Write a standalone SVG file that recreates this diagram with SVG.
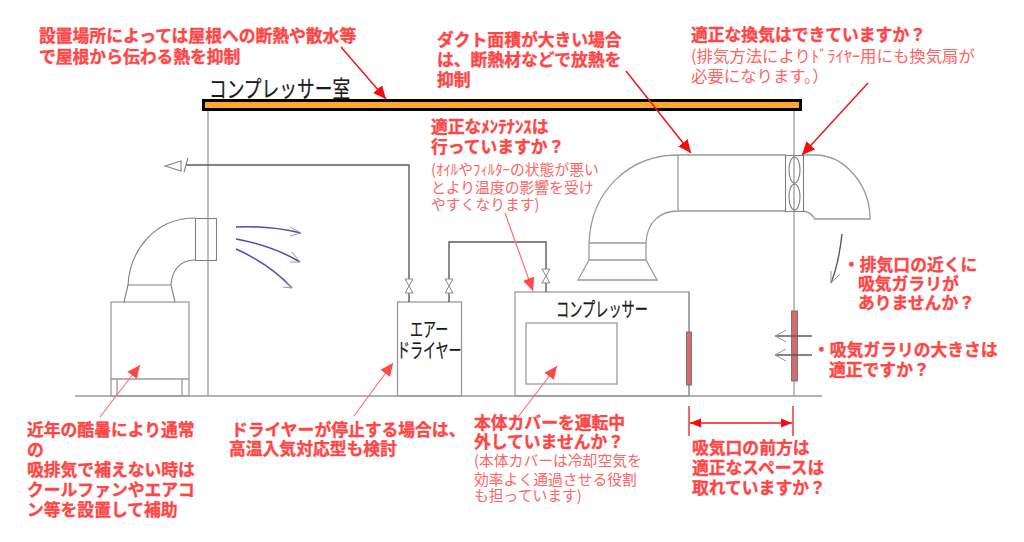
<svg xmlns="http://www.w3.org/2000/svg" width="1024" height="542" viewBox="0 0 1024 542">
<style>
text{font-family:"Noto Sans CJK JP","Noto Sans",sans-serif}
.b{font-size:16.8px;font-weight:700;fill:#ff4646;stroke:#ff4646;stroke-width:.35}
.s{font-size:14.8px;font-weight:400;fill:#ff6464}
.s2{font-size:16.4px;font-weight:400;fill:#ff6464}
.k{fill:#1a1a1a;font-weight:400;stroke:#1a1a1a;stroke-width:.25}
.l{fill:none;stroke:#9a9a9a;stroke-width:1.3}
.d{fill:none;stroke:#808080;stroke-width:1.1}
.p{fill:none;stroke:#5c5c5c;stroke-width:1.4}
.v{fill:#fff;stroke:#8a8a8a;stroke-width:1}
.g{fill:#d9686e;stroke:#777;stroke-width:1}
.r1{fill:none;stroke:#f01818;stroke-width:1.5;marker-end:url(#hr)}
.r2{fill:none;stroke:#ff7070;stroke-width:1.2;marker-end:url(#hl)}
.bl{fill:none;stroke:#4a4ac0;stroke-width:1.5}
.o{fill:none;stroke:#999;stroke-width:1}
</style>
<defs>
<marker id="hr" markerUnits="userSpaceOnUse" markerWidth="14" markerHeight="12" refX="13" refY="6" orient="auto"><path d="M0,0L13,6L0,12Z" fill="#f40d0d"/></marker>
<marker id="hl" markerUnits="userSpaceOnUse" markerWidth="14" markerHeight="12" refX="13" refY="6" orient="auto"><path d="M0,0L13,6L0,12Z" fill="#ff4a4a"/></marker>
<marker id="hd" markerUnits="userSpaceOnUse" markerWidth="12" markerHeight="12" refX="11" refY="6" orient="auto-start-reverse"><path d="M0,1.5L11,6L0,10.5Z" fill="#f40d0d"/></marker>
</defs>
<rect width="1024" height="542" fill="#fff"/>

<g id="building">
<path class="l" d="M75,396H822M208,110V396M794,110V311M794,381V396M689,292V332M689,385V396"/>
<rect x="203.500" y="100.500" width="597" height="9" fill="#ffa733" stroke="#000" stroke-width="3"/>
<text class="k" transform="translate(209,97) scale(.77,1)" font-size="23">コンプレッサー室</text>
</g>

<g id="outdoor-unit">
<rect class="l" x="111" y="302" width="78" height="94"/>
<path class="l" d="M111,379H189M117,379V396M182,379V396"/>
<path class="d" d="M195,218C155,218 130,250 128,285M195,260C180,260 172,270 171,285M128,285H171M128,285L124,302M171,285L175,302"/>
<rect class="d" x="195.500" y="218.500" width="21" height="42"/>
</g>

<g id="air-dryer">
<rect class="l" x="397.500" y="302" width="64" height="94"/>
<text class="k" transform="translate(397,0) scale(.65,1)" font-size="20"><tspan x="20" y="337">エアー</tspan><tspan x="0" y="358">ドライヤー</tspan></text>
</g>

<g id="compressor">
<rect class="l" x="515" y="292" width="174" height="104"/>
<rect class="l" x="526" y="323" width="91" height="61"/>
<text class="k" transform="translate(556,317) scale(.66,1)" font-size="20">コンプレッサー</text>
<rect class="g" x="686.500" y="332" width="5" height="53"/>
</g>

<g id="exhaust-duct">
<path class="l" d="M678,155C630,155 591,190 589,243M678,211C660,211 647,222 646,243M589,243V260M646,243V260M589,243H646M589,260H646M589,260L578,280H657L646,260M678,155V211M678,155H786M678,211H786M803,155H815C845,155 870,185 870,219H815Q811,212 803,211"/>
<rect class="d" x="785.500" y="155.500" width="18" height="56"/>
<ellipse class="d" cx="794.500" cy="170" rx="5.500" ry="13"/>
<ellipse class="d" cx="794.500" cy="197" rx="5.500" ry="13"/>
</g>

<g id="intake-grille">
<rect class="g" x="791.500" y="311" width="6" height="70"/>
</g>

<g id="connectors">
<path class="p" d="M186,165H409V279M409,293V302M449,302V293M449,279V242H546V269M546,283V292"/>
<path class="d" d="M165,166L181,161V171ZM188,158L184,172"/>
<path class="v" d="M405,279H413L405,293H413ZM445,279H453L445,293H453ZM542,269H550L542,283H550Z"/>
<path class="bl" d="M236,227C258,226 280,228 301,233M236,239C258,243 280,250 300,262M236,249C256,258 276,271 292,288"/>
<path class="o" d="M290,227L301,233L290,236M292,252L300,262L290,262M283,278L292,288L283,287"/>
<path class="p" d="M842,234C840,252 837,268 831,283"/>
<path class="o" d="M831,271L831,283L840,274"/>
<path class="p" d="M812,336H775M812,355H775"/>
<path class="o" d="M786,330L775,336L786,342M786,349L775,355L786,361"/>
<path class="r1" d="M341,47L386,99"/>
<path class="r1" d="M626,71L691,153"/>
<path class="r1" d="M868,83L802,155"/>
<path class="r2" d="M505,213L533,291"/>
<path class="r2" d="M100,417L140,365"/>
<path class="r2" d="M354,416L393,363"/>
<path class="r2" d="M518,417L557,366"/>
<path d="M689,406V436M793,406V436" fill="none" stroke="#f01818" stroke-width="1.300"/>
<path d="M690,423H792" fill="none" stroke="#f01818" stroke-width="1.300" marker-start="url(#hd)" marker-end="url(#hd)"/>
</g>

<g id="note-roof">
<text class="b"><tspan x="39" y="42">設置場所によっては屋根への断熱や散水等</tspan><tspan x="39" y="63">で屋根から伝わる熱を抑制</tspan></text>
</g>
<g id="note-duct">
<text class="b"><tspan x="437" y="46">ダクト面積が大きい場合</tspan><tspan x="437" y="66">は、断熱材などで放熱を</tspan><tspan x="437" y="86">抑制</tspan></text>
</g>
<g id="note-maintenance">
<text class="b"><tspan x="431" y="133">適正なﾒﾝﾃﾅﾝｽは</tspan><tspan x="431" y="153">行っていますか？</tspan></text>
<text class="s"><tspan x="431" y="175">(ｵｲﾙやﾌｨﾙﾀｰの状態が悪い</tspan><tspan x="431" y="193">とより温度の影響を受け</tspan><tspan x="431" y="210">やすくなります)</tspan></text>
</g>
<g id="note-ventilation">
<text class="b"><tspan x="691" y="41">適正な換気はできていますか？</tspan></text>
<text class="s2"><tspan x="691" y="62">(排気方法によりﾄﾞﾗｲﾔｰ用にも換気扇が</tspan><tspan x="691" y="82">必要になります。）</tspan></text>
</g>
<g id="note-exhaust">
<text class="b"><tspan x="843" y="271">・排気口の近くに</tspan><tspan x="858" y="290">吸気ガラリが</tspan><tspan x="858" y="309">ありませんか？</tspan></text>
</g>
<g id="note-grille">
<text class="b"><tspan x="813" y="356">・吸気ガラリの大きさは</tspan><tspan x="829" y="376">適正ですか？</tspan></text>
</g>
<g id="note-front">
<text class="b"><tspan x="692" y="454">吸気口の前方は</tspan><tspan x="692" y="474">適正なスペースは</tspan><tspan x="692" y="494">取れていますか？</tspan></text>
</g>
<g id="note-cover">
<text class="b"><tspan x="474" y="429">本体カバーを運転中</tspan><tspan x="474" y="448">外していませんか？</tspan></text>
<text class="s"><tspan x="474" y="466">(本体カバーは冷却空気を</tspan><tspan x="474" y="485">効率よく通過させる役割</tspan><tspan x="474" y="501">も担っています)</tspan></text>
</g>
<g id="note-dryer">
<text class="b"><tspan x="231" y="436">ドライヤーが停止する場合は、</tspan><tspan x="229" y="455">高温入気対応型も検討</tspan></text>
</g>
<g id="note-cooling">
<text class="b"><tspan x="27" y="436">近年の酷暑により通常</tspan><tspan x="27" y="456">の</tspan><tspan x="27" y="476">吸排気で補えない時は</tspan><tspan x="27" y="496">クールファンやエアコ</tspan><tspan x="27" y="516">ン等を設置して補助</tspan></text>
</g>
</svg>
